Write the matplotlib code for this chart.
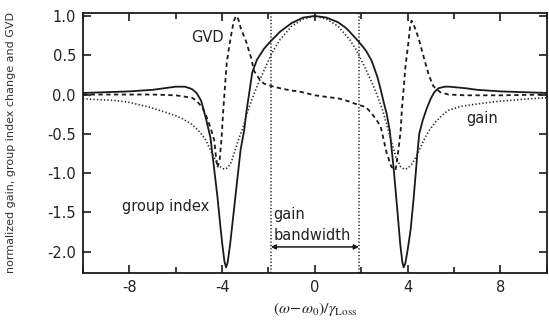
import matplotlib
matplotlib.use("Agg")
import matplotlib.pyplot as plt
from matplotlib.ticker import MultipleLocator

# group index change (solid)
gi_x = [-10, -9, -8, -7, -6.5, -6, -5.6, -5.3, -5.1, -4.9, -4.7, -4.5, -4.4, -4.3,
        -4.2, -4.1, -4.0, -3.9, -3.83, -3.76, -3.65, -3.5, -3.35, -3.2, -3.05, -2.95,
        -2.84, -2.7, -2.5, -2.2, -1.9, -1.5, -1.0, -0.5, 0,
        0.5, 1.0, 1.33, 1.5, 1.9, 2.2, 2.45, 2.7, 2.85, 2.97, 3.1, 3.23, 3.4, 3.55,
        3.68, 3.77, 3.83, 3.9, 4.0, 4.13, 4.25, 4.35, 4.42, 4.5, 4.65, 4.82, 5.0,
        5.15, 5.33, 5.6, 5.8, 6.5, 7, 8, 9, 10]
gi_y = [0.02, 0.03, 0.04, 0.06, 0.08, 0.1, 0.1, 0.07, 0.02, -0.08, -0.3, -0.55, -0.8, -1.05,
        -1.3, -1.6, -1.88, -2.12, -2.2, -2.14, -1.9, -1.5, -1.1, -0.7, -0.46, -0.22,
        0.0, 0.28, 0.44, 0.58, 0.68, 0.8, 0.91, 0.98, 1.0,
        0.98, 0.92, 0.85, 0.8, 0.67, 0.56, 0.43, 0.22, 0.05, -0.1, -0.25, -0.46, -0.95, -1.45,
        -1.9, -2.13, -2.2, -2.15, -1.98, -1.72, -1.35, -1.0, -0.75, -0.5, -0.33, -0.18, -0.05,
        0.03, 0.08, 0.1, 0.1, 0.08, 0.06, 0.04, 0.03, 0.02]

# normalized gain (dotted)
gain_x = [-10, -9, -8.6, -8, -7.14, -6.5, -6, -5.7, -5.3, -4.95, -4.7, -4.45, -4.2,
          -4.0, -3.88, -3.75, -3.6, -3.45, -3.3, -3.1, -2.9, -2.7, -2.5, -2.2, -1.85,
          -1.5, -1.0, -0.5, 0,
          0.5, 1.0, 1.5, 1.76, 2.1, 2.45, 2.7, 2.9, 3.1, 3.3, 3.5, 3.7, 3.85, 4.0,
          4.2, 4.45, 4.7, 4.9, 5.2, 5.5, 5.76, 6.3, 7, 7.8, 9, 10]
gain_y = [-0.055, -0.07, -0.076, -0.1, -0.16, -0.22, -0.27, -0.31, -0.38, -0.48, -0.58, -0.74, -0.88,
          -0.94, -0.95, -0.93, -0.86, -0.72, -0.58, -0.42, -0.22, -0.05, 0.1, 0.3, 0.53,
          0.7, 0.87, 0.96, 1.0,
          0.96, 0.87, 0.7, 0.58, 0.38, 0.16, -0.02, -0.18, -0.38, -0.6, -0.8, -0.92, -0.95, -0.94,
          -0.88, -0.74, -0.58, -0.47, -0.35, -0.26, -0.2, -0.15, -0.12, -0.09, -0.06, -0.04]

# GVD (dashed)
gvd_x = [-10, -8, -7, -6, -5.3, -5.1, -4.86, -4.7, -4.56, -4.45, -4.34, -4.26, -4.2,
         -4.1, -4.02, -3.96, -3.9, -3.8, -3.7, -3.6, -3.5, -3.4, -3.3, -3.2, -2.97,
         -2.75, -2.62, -2.4, -2.2, -1.9, -1.5, -1.0, -0.69, 0, 0.5, 1.03, 1.5, 1.76, 2.2,
         2.45, 2.65, 2.84, 3.1, 3.3, 3.48, 3.6, 3.7, 3.75, 3.82, 3.9, 4.04, 4.1, 4.17,
         4.25, 4.47, 4.7, 4.9, 5.1, 5.4, 5.76, 6.5, 8, 10]
gvd_y = [0.0, 0.0, 0.0, -0.01, -0.04, -0.08, -0.16, -0.26, -0.37, -0.47, -0.58, -0.8, -0.93,
         -0.82, -0.55, -0.25, 0.0, 0.4, 0.6, 0.77, 0.93, 1.0, 0.96, 0.85, 0.68,
         0.47, 0.3, 0.2, 0.14, 0.11, 0.08, 0.05, 0.04, -0.01, -0.03, -0.05, -0.09, -0.12, -0.16,
         -0.24, -0.32, -0.41, -0.75, -0.92, -0.96, -0.71, -0.46, -0.2, 0.05, 0.34, 0.68, 0.85, 0.94,
         0.9, 0.72, 0.47, 0.26, 0.11, 0.03, 0.0, -0.01, -0.01, 0.0]

band_edges = [-1.9, 1.9]

fig = plt.figure(figsize=(5.49, 3.21), dpi=100)
ax = fig.add_axes([0.151, 0.15, 0.845, 0.81])

ink = "#1a1a1a"
ax.plot(gi_x, gi_y, color=ink, lw=1.3)
ax.plot(gain_x, gain_y, color="#2a2a2a", lw=1.2, linestyle=(0, (0.8, 1.3)))
ax.plot(gvd_x, gvd_y, color=ink, lw=1.3, linestyle=(0, (2.4, 1.9)))
for xb in band_edges:
    ax.axvline(xb, color=ink, lw=1.1, linestyle=(0, (0.8, 1.4)))

ax.annotate("", xy=(band_edges[0], -1.94), xytext=(band_edges[1], -1.94),
            arrowprops=dict(arrowstyle="<|-|>", color=ink, lw=1.1,
                            mutation_scale=7, shrinkA=0, shrinkB=0))

txt = dict(fontsize=10.5, color="#222222")
ax.text(-1.78, -1.53, "gain", va="center", ha="left", **txt)
ax.text(-1.78, -1.79, "bandwidth", va="center", ha="left", **txt)
ax.text(-4.65, 0.72, "GVD", va="center", ha="center", **txt)
ax.text(7.2, -0.3, "gain", va="center", ha="center", **txt)
ax.text(-8.3, -1.43, "group index", va="center", ha="left", **txt)

ax.set_xlim(-10, 10)
ax.set_ylim(-2.27, 1.04)
ax.xaxis.set_minor_locator(MultipleLocator(2))
ax.set_xticks([-8, -4, 0, 4, 8])
ax.set_xticklabels(["-8", "-4", "0", "4", "8"])
ax.set_yticks([-2.0, -1.5, -1.0, -0.5, 0.0, 0.5, 1.0])
ax.set_yticklabels(["-2.0", "-1.5", "-1.0", "-0.5", "0.0", "0.5", "1.0"])

ax.tick_params(which="both", direction="in", top=True, right=True,
               colors=ink, width=1.2, labelsize=10.5, labelcolor="#222222")
ax.tick_params(which="major", length=6, pad=5)
ax.tick_params(which="minor", length=4)
for s in ax.spines.values():
    s.set_linewidth(1.3)
    s.set_color(ink)

ax.set_xlabel(r"$(\omega\!-\!\omega_0)/\gamma_{\mathrm{Loss}}$", fontsize=11.5,
              color="#222222", math_fontfamily="stix")
ax.xaxis.set_label_coords(0.5, -0.105)
ax.set_ylabel("normalized gain, group index change and GVD", fontsize=8,
              color="#333333")
ax.yaxis.set_label_coords(-0.145, 0.5)

fig.savefig("out.png", dpi=100)
